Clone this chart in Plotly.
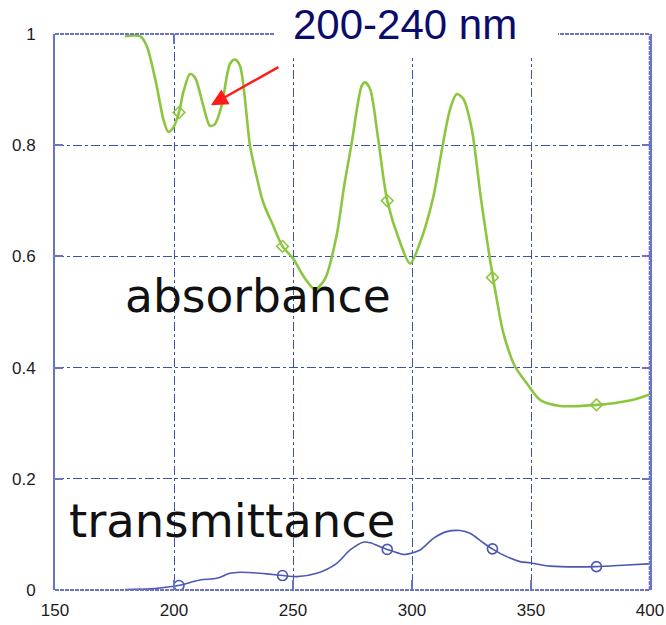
import plotly.graph_objects as go

# Absorbance spectrum (wavelength in nm, absorbance)
abs_wl = [179.4, 185.7, 188.5, 192.7, 195.5, 197.6, 199.7, 202.1, 203.9, 206.7,
          208.8, 212.3, 215.1, 217.2, 220.0, 223.5, 225.6, 227.7, 231.9, 234.0,
          237.5, 241.7, 245.6, 250.1, 254.3, 259.2, 263.4, 268.3, 271.5, 274.7,
          278.9, 280.3, 282.4, 285.8, 289.6, 295.0, 299.2, 303.4, 308.9, 313.1,
          316.0, 318.8, 321.6, 325.1, 329.0, 332.1, 334.0, 335.6, 338.4, 343.3,
          348.2, 353.8, 362.2, 377.7, 384.6, 393.0, 399.5]
abs_val = [0.996, 0.996, 0.979, 0.907, 0.847, 0.824, 0.832, 0.859, 0.895, 0.928,
           0.922, 0.871, 0.835, 0.838, 0.871, 0.946, 0.954, 0.943, 0.800, 0.757,
           0.697, 0.655, 0.618, 0.596, 0.565, 0.541, 0.559, 0.637, 0.727, 0.805,
           0.907, 0.913, 0.901, 0.811, 0.700, 0.625, 0.587, 0.625, 0.706, 0.805,
           0.865, 0.892, 0.883, 0.829, 0.703, 0.613, 0.562, 0.523, 0.462, 0.402,
           0.372, 0.342, 0.331, 0.333, 0.336, 0.342, 0.351]

# Transmittance spectrum
tr_wl = [179.4, 190.0, 195.0, 201.8, 210.9, 217.9, 223.5, 227.7, 233.3, 239.0,
         245.9, 251.6, 260.0, 268.4, 274.0, 279.5, 282.4, 286.6, 289.6, 296.3,
         298.5, 303.4, 309.0, 314.6, 320.2, 324.4, 329.3, 333.7, 339.8, 345.4,
         349.6, 358.0, 377.3, 390.2, 399.5]
tr_val = [0.001, 0.002, 0.004, 0.008, 0.018, 0.021, 0.030, 0.032, 0.031, 0.029,
          0.026, 0.024, 0.030, 0.048, 0.072, 0.086, 0.085, 0.078, 0.073, 0.064,
          0.065, 0.072, 0.093, 0.105, 0.107, 0.102, 0.087, 0.074, 0.060, 0.051,
          0.049, 0.043, 0.042, 0.045, 0.047]

# Marker positions along each curve
mark_wl = [202.1, 245.6, 289.6, 333.8, 377.5]
abs_mark = [0.859, 0.618, 0.700, 0.562, 0.333]
tr_mark = [0.008, 0.026, 0.073, 0.074, 0.042]

x_ticks = [150, 200, 250, 300, 350, 400]
y_ticks = [0, 0.2, 0.4, 0.6, 0.8, 1]
y_tick_text = ["0", "0.2", "0.4", "0.6", "0.8", "1"]

GREEN = "#8cc63f"
BLUE = "#4b57b3"
GRID = "#3f4fb0"
FRAME = "#6b74c2"
TICK_TEXT = "#1c1c1c"

fig = go.Figure()
fig.add_trace(go.Scatter(x=abs_wl, y=abs_val, mode="lines",
                         line=dict(color=GREEN, width=2.6, shape="spline", smoothing=0.8),
                         hoverinfo="skip"))
fig.add_trace(go.Scatter(x=mark_wl, y=abs_mark, mode="markers",
                         marker=dict(symbol="diamond-open", size=9, color=GREEN,
                                     line=dict(width=1.6, color=GREEN))))
fig.add_trace(go.Scatter(x=tr_wl, y=tr_val, mode="lines",
                         line=dict(color=BLUE, width=1.6, shape="spline", smoothing=0.8),
                         hoverinfo="skip"))
fig.add_trace(go.Scatter(x=mark_wl, y=tr_mark, mode="markers",
                         marker=dict(symbol="circle-open", size=10, color=BLUE,
                                     line=dict(width=1.6, color=BLUE))))

shapes = [
    # dashed frame on bottom, right and top
    dict(type="line", xref="paper", yref="paper", x0=0, x1=1, y0=0, y1=0,
         line=dict(color=FRAME, width=2.2, dash="4px,1px"), layer="above"),
    dict(type="line", xref="paper", yref="paper", x0=1, x1=1, y0=0, y1=1,
         line=dict(color=FRAME, width=2.6, dash="4px,1px"), layer="above"),
    dict(type="line", xref="paper", yref="paper", x0=0, x1=1, y0=1, y1=1,
         line=dict(color=FRAME, width=2.0, dash="4px,1px"), layer="above"),
    # white panel behind the heading
    dict(type="rect", xref="paper", yref="paper", x0=0.3697, x1=0.8454,
         y0=0.9568, y1=1.07, fillcolor="white", line=dict(width=0), layer="above"),
]

annotations = [
    dict(text="200-240 nm", xref="paper", yref="paper", x=0.588, y=1.0612,
         xanchor="center", yanchor="top", showarrow=False, borderpad=0,
         font=dict(family="Liberation Sans, Arial", size=42, color="#0b0b6b")),
    dict(text="absorbance", xref="x", yref="y", x=235.1, y=0.528,
         xanchor="center", yanchor="middle", showarrow=False,
         font=dict(family="DejaVu Sans", size=45.5, color="#111111")),
    dict(text="transmittance", xref="x", yref="y", x=224.4, y=0.125,
         xanchor="center", yanchor="middle", showarrow=False,
         font=dict(family="DejaVu Sans", size=46.5, color="#111111")),
    dict(text="", x=215.5, y=0.872, xref="x", yref="y",
         ax=244.5, ay=0.942, axref="x", ayref="y", showarrow=True,
         arrowhead=2, arrowsize=1.4, arrowwidth=2.4, arrowcolor="#ff1a1a", standoff=0),
]

fig.update_layout(
    width=666, height=625,
    margin=dict(l=55, r=16, t=34, b=35, autoexpand=False),
    paper_bgcolor="white", plot_bgcolor="white",
    showlegend=False,
    shapes=shapes, annotations=annotations,
    font=dict(family="Liberation Sans, Arial", size=17, color=TICK_TEXT),
)
fig.update_xaxes(range=[150, 400], tickvals=x_ticks, ticks="inside", ticklen=10,
                 tickcolor=FRAME, tickwidth=1.5, mirror="ticks", automargin=False,
                 showline=False, showgrid=True, gridcolor=GRID, gridwidth=1,
                 griddash="dashdot", zeroline=False, ticklabelstandoff=8,
                 tickfont=dict(size=17, color=TICK_TEXT))
fig.update_yaxes(range=[0, 1], tickvals=y_ticks, ticktext=y_tick_text,
                 ticks="inside", ticklen=8, tickcolor=FRAME, tickwidth=1.5,
                 mirror="ticks", showline=True, linecolor=FRAME, linewidth=2,
                 automargin=False,
                 showgrid=True, gridcolor=GRID, gridwidth=1, griddash="dashdot",
                 zeroline=False, ticklabelstandoff=14,
                 tickfont=dict(size=17, color=TICK_TEXT))

fig.write_html("out.html")
